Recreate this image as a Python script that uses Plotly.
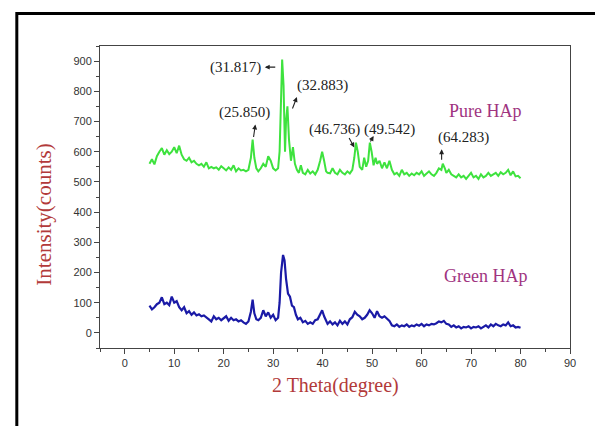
import plotly.graph_objects as go

# ---------------- data ----------------
pure_x = [5, 5.5, 6, 6.5, 7, 7.5, 8, 8.5, 9, 9.5, 10, 10.5, 11, 11.5, 12, 12.5, 13, 13.5, 14, 14.5,
          15, 15.5, 16, 16.5, 17, 17.5, 18, 18.5, 19, 19.5, 20, 20.5, 21, 21.5, 22, 22.5, 23, 23.5, 24, 24.5,
          25, 25.5, 25.85, 26.2, 26.6, 27, 27.5, 28, 28.5, 29, 29.5, 30, 30.5, 31, 31.3, 31.6, 31.817, 32.1,
          32.4, 32.6, 32.883, 33.2, 33.6, 34, 34.4, 34.8, 35.2, 35.6, 36, 36.5, 37, 37.5, 38, 38.5, 39, 39.5,
          39.9, 40.3, 40.7, 41, 41.5, 42, 42.5, 43, 43.5, 44, 44.5, 45, 45.5, 46, 46.4, 46.736, 47.1, 47.5,
          48, 48.4, 48.8, 49.2, 49.542, 49.9, 50.3, 50.7, 51, 51.5, 52, 52.5, 53, 53.5, 54, 54.5, 55, 55.5,
          56, 56.5, 57, 57.5, 58, 58.5, 59, 59.5, 60, 60.5, 61, 61.5, 62, 62.5, 63, 63.5, 64, 64.283, 64.7,
          65, 65.5, 66, 66.5, 67, 67.5, 68, 68.5, 69, 69.5, 70, 70.5, 71, 71.5, 72, 72.5, 73, 73.5, 74, 74.5,
          75, 75.5, 76, 76.5, 77, 77.5, 78, 78.5, 79, 79.5, 80]
pure_y = [560, 575, 558, 585, 600, 612, 590, 605, 592, 600, 615, 595, 620, 590, 575, 570, 580, 565, 570, 560,
          555, 560, 550, 565, 545, 550, 545, 548, 540, 552, 545, 538, 548, 540, 555, 535, 545, 538, 540, 535,
          540, 580, 640, 580, 545, 535, 545, 560, 550, 585, 570, 545, 538, 545, 600, 800, 905, 820,
          600, 700, 750, 640, 570, 615, 560, 540, 530, 555, 530, 525, 540, 528, 535, 525, 540, 570,
          600, 570, 535, 530, 528, 545, 530, 525, 540, 530, 525, 535, 528, 540, 580, 630, 600, 550,
          540, 580, 550, 570, 630, 600, 555, 580, 560, 570, 545, 565, 545, 570, 540, 525, 530, 520,
          540, 525, 530, 520, 528, 522, 530, 525, 535, 520, 528, 535, 525, 520, 530, 545, 540, 560, 545,
          530, 540, 525, 520, 515, 525, 515, 520, 510, 520, 530, 515, 520, 510, 525, 515, 520, 530, 520, 525,
          530, 520, 532, 525, 530, 540, 522, 535, 518, 520, 512]

green_x = [5, 5.5, 6, 6.5, 7, 7.5, 8, 8.5, 9, 9.5, 10, 10.5, 11, 11.5, 12, 12.5, 13, 13.5, 14, 14.5,
           15, 15.5, 16, 16.5, 17, 17.5, 18, 18.5, 19, 19.5, 20, 20.5, 21, 21.5, 22, 22.5, 23, 23.5, 24, 24.5,
           25, 25.5, 25.85, 26.2, 26.6, 27, 27.5, 28, 28.5, 29, 29.5, 30, 30.5, 31, 31.3, 31.6, 32, 32.3,
           32.6, 33, 33.4, 33.8, 34.2, 34.6, 35, 35.5, 36, 36.5, 37, 37.5, 38, 38.5, 39, 39.5, 39.9, 40.3,
           40.7, 41, 41.5, 42, 42.5, 43, 43.5, 44, 44.5, 45, 45.5, 46, 46.5, 47, 47.5, 48, 48.5, 49, 49.5,
           50, 50.5, 51, 51.5, 52, 52.5, 53, 53.5, 54, 54.5, 55, 55.5, 56, 56.5, 57, 57.5, 58, 58.5, 59,
           59.5, 60, 60.5, 61, 61.5, 62, 62.5, 63, 63.5, 64, 64.5, 65, 65.5, 66, 66.5, 67, 67.5, 68, 68.5,
           69, 69.5, 70, 70.5, 71, 71.5, 72, 72.5, 73, 73.5, 74, 74.5, 75, 75.5, 76, 76.5, 77, 77.5, 78,
           78.5, 79, 79.5, 80]
green_y = [90, 78, 85, 95, 100, 118, 95, 100, 92, 120, 100, 105, 85, 75, 85, 65, 72, 60, 68, 58,
           62, 55, 58, 50, 45, 38, 55, 45, 50, 42, 48, 55, 40, 50, 42, 45, 38, 42, 35, 30,
           38, 70, 110, 65, 45, 42, 50, 75, 55, 68, 50, 60, 42, 50, 100, 200, 258, 240,
           180, 130, 120, 90, 85, 60, 45, 50, 35, 40, 30, 35, 30, 42, 45, 60, 75, 55,
           40, 30, 38, 28, 35, 25, 40, 30, 38, 28, 45, 52, 70, 60, 55, 45, 50, 60, 75,
           65, 50, 72, 55, 50, 55, 48, 40, 25, 22, 28, 20, 25, 22, 28, 20, 25, 22, 28,
           24, 30, 22, 28, 25, 30, 28, 32, 38, 35, 40, 30, 28, 20, 25, 18, 22, 15, 20,
           18, 22, 15, 20, 18, 22, 15, 20, 25, 18, 28, 22, 30, 25, 22, 28, 25, 35, 22,
           25, 18, 20, 17]

x_tick_vals = [0, 10, 20, 30, 40, 50, 60, 70, 80, 90]
y_tick_vals = [0, 100, 200, 300, 400, 500, 600, 700, 800, 900]

# peak labels and their arrows
peak_labels = ["(31.817)", "(32.883)", "(25.850)", "(46.736)", "(49.542)", "(64.283)"]
label_x = [22.4, 40.0, 24.2, 42.4, 53.6, 68.5]
label_y = [880, 818, 731, 674, 674, 648]
arrow_x = [28.3, 34.8, 26.4, 46.4, 50.3, 64.05]
arrow_y = [880, 781, 690, 614, 652, 608]
arrow_dx = [12, -5, -2, -6, -4, 0]
arrow_dy = [0, 13, 14, -11, 7, 12]

SERIF = "Liberation Serif, Times New Roman, serif"
SANS = "Liberation Sans, Arial, sans-serif"

fig = go.Figure()
fig.add_trace(go.Scatter(x=pure_x, y=pure_y, mode="lines",
                         line=dict(color="#3ee23e", width=2.0), name="Pure HAp"))
fig.add_trace(go.Scatter(x=green_x, y=green_y, mode="lines",
                         line=dict(color="#1a1aa6", width=2.2), name="Green HAp"))

annotations = []
for t, lx, ly in zip(peak_labels, label_x, label_y):
    annotations.append(dict(x=lx, y=ly, text=t, showarrow=False,
                            font=dict(family=SERIF, size=15, color="#222222")))
for axp, ayp, dx, dy in zip(arrow_x, arrow_y, arrow_dx, arrow_dy):
    annotations.append(dict(x=axp, y=ayp, text="", showarrow=True, ax=dx, ay=dy,
                            arrowhead=2, arrowsize=0.9, arrowwidth=1.1, arrowcolor="#222222"))
annotations.append(dict(x=73.0, y=735, text="Pure HAp", showarrow=False,
                        font=dict(family=SERIF, size=18, color="#a0347f")))
annotations.append(dict(x=73.0, y=190, text="Green HAp", showarrow=False,
                        font=dict(family=SERIF, size=18, color="#a0347f")))
annotations.append(dict(x=0.5, y=-0.125, xref="paper", yref="paper", text="2 Theta(degree)",
                        showarrow=False, yanchor="middle",
                        font=dict(family=SERIF, size=20, color="#b23a3a")))
annotations.append(dict(x=-0.118, y=0.44, xref="paper", yref="paper", text="Intensity(counts)",
                        showarrow=False, textangle=-90, xanchor="center", yanchor="middle",
                        font=dict(family=SERIF, size=21, color="#b23a3a")))

# page body has an 8px margin, so the figure is offset by 8px; size/margins compensate
fig.update_layout(
    width=595, height=418,
    margin=dict(l=92, r=33, t=38, b=78),
    paper_bgcolor="white", plot_bgcolor="white",
    showlegend=False,
    annotations=annotations,
    shapes=[dict(type="rect", xref="paper", yref="paper",
                 x0=-0.177, x1=1.09, y0=-0.31, y1=1.108,
                 line=dict(color="black", width=3), layer="above")],
)
fig.update_xaxes(range=[-5, 90], tickvals=x_tick_vals, ticks="outside", ticklen=5,
                 showline=True, linecolor="#444444", linewidth=1, mirror=True,
                 showgrid=False, zeroline=False, tickcolor="#444444",
                 tickfont=dict(family=SANS, size=11, color="#333333"),
                 minor=dict(dtick=5, tick0=0, ticks="outside", ticklen=3, tickcolor="#444444"))
fig.update_yaxes(range=[-50, 950], tickvals=y_tick_vals, ticks="outside", ticklen=5,
                 showline=True, linecolor="#444444", linewidth=1, mirror=True,
                 showgrid=False, zeroline=False, tickcolor="#444444",
                 tickfont=dict(family=SANS, size=11, color="#333333"),
                 minor=dict(dtick=50, tick0=0, ticks="outside", ticklen=3, tickcolor="#444444"))

fig.write_html("out.html")
